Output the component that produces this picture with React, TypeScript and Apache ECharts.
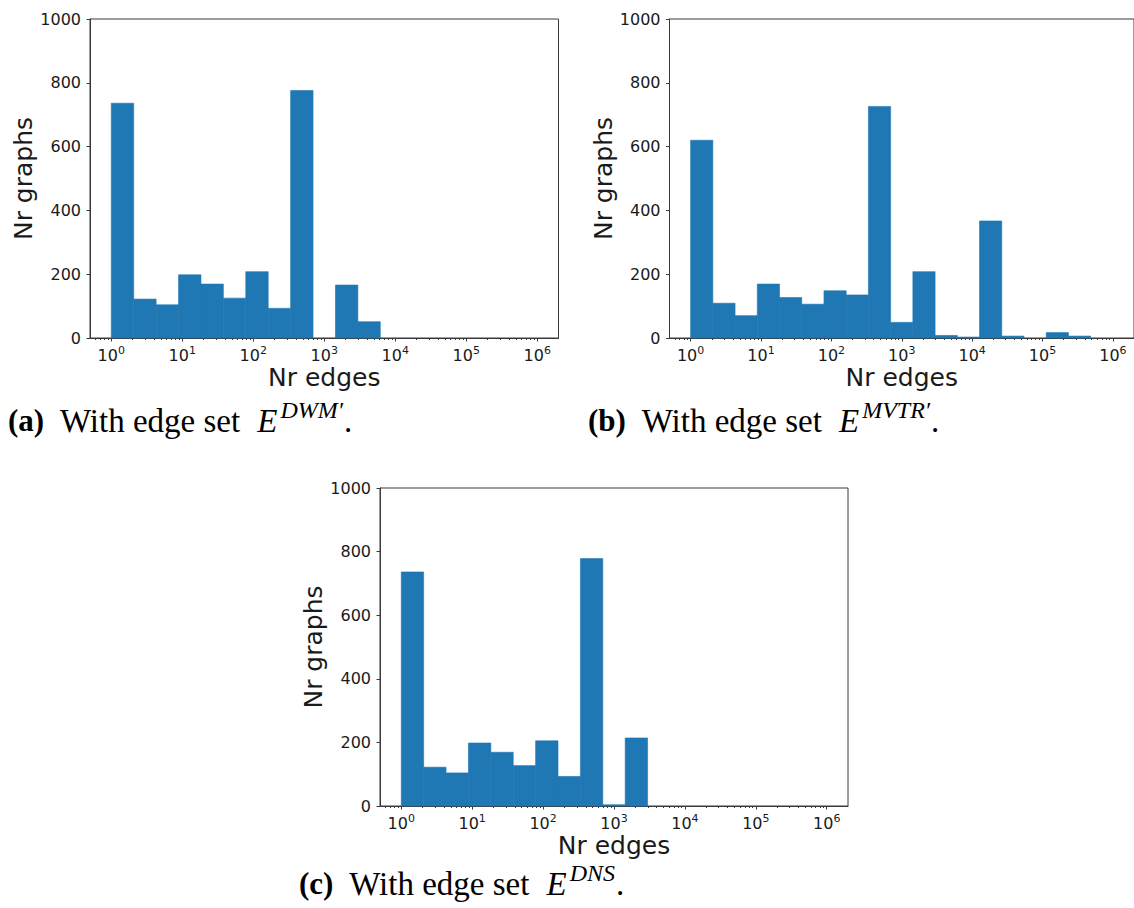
import React, { useEffect, useRef } from "react";
import * as echarts from "echarts";

// Histogram bins: 19 logarithmic bins from 10^0 to 10^6 (exponents of bin edges)
const BIN_EDGES_EXP = [
  0, 0.3158, 0.6316, 0.9474, 1.2632, 1.5789, 1.8947, 2.2105, 2.5263, 2.8421,
  3.1579, 3.4737, 3.7895, 4.1053, 4.4211, 4.7368, 5.0526, 5.3684, 5.6842, 6.0,
];

// Counts per bin (Nr graphs)
const COUNTS_A = [736, 122, 104, 198, 169, 125, 208, 93, 776, 0, 166, 51, 0, 0, 0, 0, 0, 0, 0];
const COUNTS_B = [620, 109, 70, 169, 127, 106, 148, 135, 726, 49, 208, 8, 3, 367, 6, 0, 17, 6, 0];
const COUNTS_C = [736, 122, 104, 198, 169, 127, 205, 93, 778, 4, 214, 0, 0, 0, 0, 0, 0, 0, 0];

// Axis ticks
const X_MAJOR_EXP = [0, 1, 2, 3, 4, 5, 6];
const X_MINOR_MULTS = [2, 3, 4, 5, 6, 7, 8, 9];
const X_MINOR_DECADES = [-1, 0, 1, 2, 3, 4, 5, 6];
const Y_TICKS = [0, 200, 400, 600, 800, 1000];

const X_MIN = -0.3;
const X_MAX = 6.3;

const CAPTIONS = [
  { label: "(a)", sup: "DWM\u2032" },
  { label: "(b)", sup: "MVTR\u2032" },
  { label: "(c)", sup: "DNS" },
];

const PANELS = [
  { counts: COUNTS_A, left: 90, top: 19, width: 468.5, height: 319, capX: 8, capY: 443 },
  { counts: COUNTS_B, left: 669.5, top: 19, width: 469, height: 319, capX: 588, capY: 443 },
  { counts: COUNTS_C, left: 380, top: 488, width: 468, height: 318, capX: 299, capY: 906 },
];

const SANS = "DejaVu Sans";
const SERIF = "Liberation Serif";
const BAR_COLOR = "#1f77b4";
const FRAME = "#3a3a3a";
const TEXT = "#1a1a1a";

export default function App() {
  const ref = useRef<HTMLDivElement>(null);

  useEffect(() => {
    if (!ref.current) return;
    const chart = echarts.init(ref.current, undefined, { renderer: "svg" });

    const minorTicks: number[] = [];
    X_MINOR_DECADES.forEach((d) =>
      X_MINOR_MULTS.forEach((m) => {
        const v = d + Math.log10(m);
        if (v > X_MIN && v < X_MAX) minorTicks.push(v);
      })
    );

    const grids: any[] = [];
    const xAxes: any[] = [];
    const yAxes: any[] = [];
    const series: any[] = [];

    PANELS.forEach((p, i) => {
      grids.push({
        left: p.left,
        top: p.top,
        width: p.width,
        height: p.height,
        show: true,
        borderColor: FRAME,
        borderWidth: 1,
        backgroundColor: "transparent",
      });
      // major axis
      xAxes.push({
        type: "value",
        gridIndex: i,
        min: X_MIN,
        max: X_MAX,
        position: "bottom",
        name: "Nr edges",
        nameLocation: "middle",
        nameGap: 27,
        nameTextStyle: { fontFamily: SANS, fontSize: 25, color: TEXT },
        splitLine: { show: false },
        axisLine: { show: true, onZero: false, lineStyle: { color: FRAME, width: 1 } },
        axisTick: { show: true, length: 3.5, customValues: X_MAJOR_EXP, lineStyle: { color: FRAME } },
        axisLabel: {
          show: true,
          customValues: X_MAJOR_EXP,
          margin: 7,
          formatter: (v: number) => `{b|10}{s|${Math.round(v)}}`,
          rich: {
            b: { fontFamily: SANS, fontSize: 16, color: TEXT },
            s: { fontFamily: SANS, fontSize: 11, color: TEXT, padding: [0, 0, 10, 0] },
          },
        },
      });
      // minor ticks axis
      xAxes.push({
        type: "value",
        gridIndex: i,
        min: X_MIN,
        max: X_MAX,
        position: "bottom",
        splitLine: { show: false },
        axisLine: { show: false, onZero: false },
        axisTick: { show: true, length: 2, customValues: minorTicks, lineStyle: { color: FRAME } },
        axisLabel: { show: false },
      });
      yAxes.push({
        type: "value",
        gridIndex: i,
        min: 0,
        max: 1000,
        interval: 200,
        name: "Nr graphs",
        nameLocation: "middle",
        nameRotate: 90,
        nameGap: 50,
        nameTextStyle: { fontFamily: SANS, fontSize: 25, color: TEXT },
        splitLine: { show: false },
        axisLine: { show: true, onZero: false, lineStyle: { color: FRAME, width: 1 } },
        axisTick: { show: true, length: 3.5, lineStyle: { color: FRAME } },
        axisLabel: {
          show: true,
          customValues: Y_TICKS,
          margin: 9,
          fontFamily: SANS,
          fontSize: 16,
          color: TEXT,
          formatter: (v: number) => String(v),
        },
      });
      const data = p.counts.map((c, k) => [BIN_EDGES_EXP[k], BIN_EDGES_EXP[k + 1], c]);
      series.push({
        type: "custom",
        xAxisIndex: i * 2,
        yAxisIndex: i,
        encode: { x: [0, 1], y: 2 },
        data,
        renderItem: (params: any, api: any) => {
          if (!(api.value(2) > 0)) return null;
          const p0 = api.coord([api.value(0), 0]);
          const p1 = api.coord([api.value(1), api.value(2)]);
          return {
            type: "rect",
            shape: { x: p0[0], y: p1[1], width: p1[0] - p0[0], height: p0[1] - p1[1] },
            style: { fill: BAR_COLOR, stroke: BAR_COLOR, lineWidth: 0.6 },
          };
        },
      });
    });

    const graphic = PANELS.map((p, i) => ({
      type: "text",
      x: p.capX,
      y: p.capY,
      style: {
        text: `{b|${CAPTIONS[i].label}}{n|  With edge set  }{i|E}{s|${CAPTIONS[i].sup}}{n|.}`,
        verticalAlign: "bottom",
        fill: "#000",
        rich: {
          b: { fontFamily: SERIF, fontSize: 31, fontWeight: "bold", fill: "#000" },
          n: { fontFamily: SERIF, fontSize: 33, fill: "#000" },
          i: { fontFamily: SERIF, fontSize: 33, fontStyle: "italic", fill: "#000" },
          s: { fontFamily: SERIF, fontSize: 24, fontStyle: "italic", fill: "#000", padding: [0, 1, 21, 3] },
        },
      },
    }));

    chart.setOption({
      animation: false,
      backgroundColor: "#ffffff",
      grid: grids,
      xAxis: xAxes,
      yAxis: yAxes,
      series,
      graphic,
    });

    return () => chart.dispose();
  }, []);

  return (
    <div
      ref={ref}
      style={{ position: "fixed", left: 0, top: 0, width: 1134, height: 908 }}
    />
  );
}
